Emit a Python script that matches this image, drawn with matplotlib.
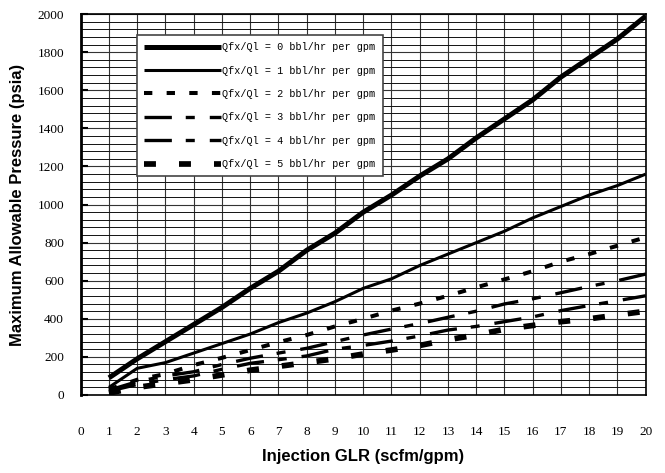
import matplotlib
matplotlib.use("Agg")
import matplotlib.pyplot as plt
import numpy as np

# data
glr = [1, 2, 3, 4, 5, 6, 7, 8, 9, 10, 11, 12, 13, 14, 15, 16, 17, 18, 19, 20]
q0 = [90, 190, 280, 370, 460, 560, 650, 760, 850, 960, 1050, 1150, 1240, 1350, 1450, 1550, 1670, 1770, 1870, 1990]
q1 = [40, 140, 170, 220, 270, 320, 380, 430, 490, 560, 610, 680, 740, 800, 860, 930, 990, 1050, 1100, 1160]
q2 = [30, 80, 110, 157, 195, 236, 277, 315, 360, 400, 443, 480, 521, 565, 607, 650, 700, 740, 784, 828]
q3 = [25, 70, 100, 122, 160, 193, 220, 245, 280, 315, 346, 375, 408, 440, 478, 505, 537, 570, 600, 635]
q4 = [20, 55, 80, 100, 135, 166, 185, 205, 240, 260, 283, 310, 341, 360, 385, 410, 443, 470, 495, 521]
q5 = [10, 40, 60, 80, 105, 130, 150, 170, 190, 215, 236, 260, 290, 315, 345, 365, 385, 400, 420, 440]
labels = ["Qfx/Ql = %d bbl/hr per gpm" % i for i in range(6)]

plt.rcParams['lines.scale_dashes'] = False

fig = plt.figure(figsize=(6.65, 4.73), dpi=100)
ax = fig.add_axes([0.1214, 0.165, 0.8496, 0.805])

styles = [
    dict(lw=3.6, ls='-'),
    dict(lw=2.2, ls='-'),
    dict(lw=2.9, dashes=(6, 10.3)),
    dict(lw=2.4, dashes=(19.7, 10, 6.5, 10.8)),
    dict(lw=2.4, dashes=(19.7, 10, 6.5, 10.8)),
    dict(lw=4.1, dashes=(8.6, 16.6)),
]
for ys, st, lab in zip([q0, q1, q2, q3, q4, q5], styles, labels):
    ax.plot(glr, ys, color='black', label=lab, solid_capstyle='butt', **st)

ax.set_xlim(0, 20)
ax.set_ylim(0, 2000)
ax.set_xticks(np.arange(0, 21, 1))
ax.set_yticks(np.arange(0, 2001, 200))
ax.set_yticks(np.arange(0, 2001, 40), minor=True)
ax.grid(True, which='major', color='#333333', lw=0.8)
ax.grid(True, which='minor', axis='y', color='#111111', lw=0.7)
ax.set_axisbelow(True)

for t in ax.get_xticklabels() + ax.get_yticklabels():
    t.set_fontfamily('Liberation Serif')
    t.set_fontsize(9.5)
ax.tick_params(axis='x', length=0, pad=22)
ax.tick_params(axis='y', which='major', direction='in', length=5, width=1.5, pad=12)
ax.tick_params(axis='y', which='minor', length=0)

for s in ax.spines.values():
    s.set_linewidth(1.2)
ax.spines['left'].set_linewidth(2)

ax.set_xlabel("Injection GLR (scfm/gpm)", fontfamily='Liberation Sans',
              fontweight='bold', fontsize=12, labelpad=8)
ax.set_ylabel("Maximum Allowable Pressure (psia)", fontfamily='Liberation Sans',
              fontweight='bold', fontsize=12, labelpad=9)

leg = ax.legend(loc='upper left', bbox_to_anchor=(0.1, 0.945), borderaxespad=0,
                prop=dict(family='Liberation Mono', size=7.3),
                handlelength=7.6, handletextpad=0.1, labelspacing=1.32,
                borderpad=0.7, fancybox=False, framealpha=1)
leg.get_frame().set_edgecolor('#444444')
leg.get_frame().set_linewidth(1.2)

fig.savefig("out.png", dpi=100)
